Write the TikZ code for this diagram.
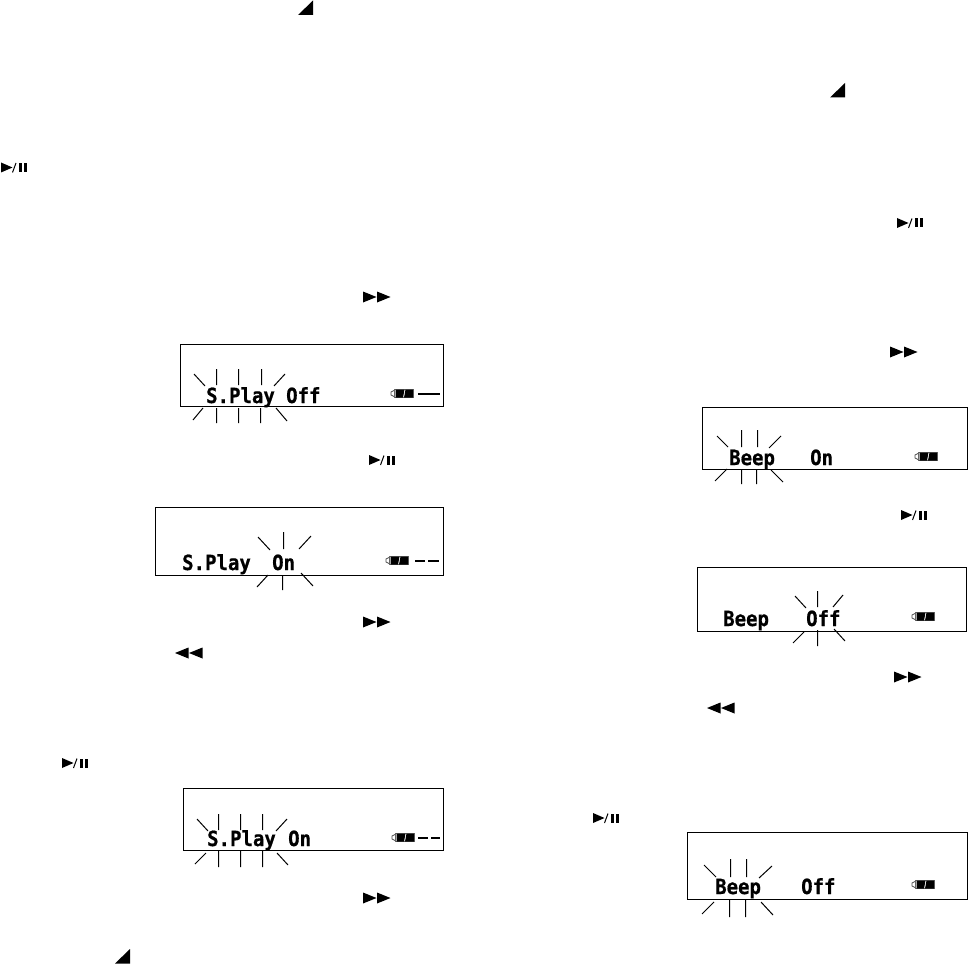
\documentclass[tikz,border=0pt]{standalone}
\usepackage{fontspec}
\newfontfamily\lcdfont[FakeBold=0.7]{DejaVu Sans Mono Bold}
\tikzset{
  x=1pt,y=-1pt,
  lcdbox/.style={draw=black,line width=1pt,fill=white},
  ray/.style={draw=black,line width=1pt},
  lcd/.style={anchor=base west,inner sep=0pt,font=\lcdfont\fontsize{19}{19}\selectfont},
  glyph/.style={fill=black,draw=none}
}
\newcommand{\lcdtext}[1]{\scalebox{1}[1.1]{#1}}
% icons: #1 = left x, #2 = centre y (or top for the corner triangle)
\newcommand{\iconplay}[2]{%
  \fill[glyph] (#1,#2-5) -- (#1+11.5,#2) -- (#1,#2+5) -- cycle;
  \draw[line width=1pt] (#1+11.5,#2+5) -- (#1+15,#2-4.5);
  \fill[glyph] (#1+18,#2-4.5) rectangle (#1+21,#2+4.5);
  \fill[glyph] (#1+23,#2-4.5) rectangle (#1+26,#2+4.5);
}
\newcommand{\iconff}[2]{%
  \fill[glyph] (#1,#2-5.5) -- (#1+13.5,#2) -- (#1,#2+5.5) -- cycle;
  \fill[glyph] (#1+14,#2-5.5) -- (#1+27.5,#2) -- (#1+14,#2+5.5) -- cycle;
}
\newcommand{\iconrew}[2]{%
  \fill[glyph] (#1+13.5,#2-5.5) -- (#1,#2) -- (#1+13.5,#2+5.5) -- cycle;
  \fill[glyph] (#1+27.5,#2-5.5) -- (#1+14,#2) -- (#1+27.5,#2+5.5) -- cycle;
}
\newcommand{\icontri}[2]{%
  \fill[glyph] (#1,#2+14.5) -- (#1+15,#2) -- (#1+15,#2+14.5) -- cycle;
}
\newcommand{\battery}[2]{%
  \draw[line width=0.8pt,draw=black!70] (#1+4,#2+1.5) -- (#1+1,#2+3) -- (#1+1,#2+6) -- (#1+4,#2+7.5);
  \draw[line width=1pt,draw=black!60] (#1+4,#2+0.5) rectangle (#1+23,#2+8.7);
  \fill[black] (#1+5.5,#2+0.5) -- (#1+14.5,#2+0.5) -- (#1+13,#2+8.7) -- (#1+5.5,#2+8.7) -- cycle;
  \fill[black] (#1+15.5,#2+0.5) -- (#1+23,#2+0.5) -- (#1+23,#2+8.7) -- (#1+14,#2+8.7) -- cycle;
}
\begin{document}
\begin{tikzpicture}
\useasboundingbox[fill=white] (0,0) rectangle (968,968);

% corner triangles
\icontri{298}{0.5}
\icontri{830}{83}
\icontri{115}{949}
% play/pause
\iconplay{1}{167.5}
\iconplay{897}{223}
\iconplay{369}{460}
\iconplay{901}{515}
\iconplay{62}{763}
\iconplay{593}{818}
% fast forward
\iconff{363}{297}
\iconff{890}{352}
\iconff{363}{622}
\iconff{894}{677}
\iconff{363}{898}
% rewind
\iconrew{175}{653}
\iconrew{707}{708}

% --- Display 1
\draw[lcdbox] (180.5,344.5) rectangle (443.5,406.5);
\node[lcd] (a1) at (206,403) {\lcdtext{S.Play}};
\node[lcd] (a2) at (286,403) {\lcdtext{Off}};
\battery{390}{389}
\draw[line width=2pt] (418,394) -- (440,394);
\draw[ray] (194,374)--(205,386) (216.5,369)--(216.5,385) (238.5,369)--(238.5,385) (261.5,369)--(261.5,385) (285,374)--(274,386);
\draw[ray] (203,408)--(193,420) (216.5,408)--(216.5,423) (238.5,408)--(238.5,423) (260.5,408)--(260.5,423) (276,408)--(287,421);

% --- Display 2
\draw[lcdbox] (155.5,507.5) rectangle (443.5,575.5);
\node[lcd] (b1) at (182,570) {\lcdtext{S.Play}};
\node[lcd] (b2) at (272,570) {\lcdtext{On}};
\battery{385}{556}
\draw[line width=2pt] (415,561) -- (425,561) (428,561) -- (439,561);
\draw[ray] (258,537)--(270,550) (283.5,532)--(283.5,549) (311,536)--(299,549);
\draw[ray] (268,575)--(257,587) (282.5,575)--(282.5,590) (301,573)--(313,586);

% --- Display 3
\draw[lcdbox] (183.5,788.5) rectangle (443.5,850.5);
\node[lcd] (c1) at (207,846) {\lcdtext{S.Play}};
\node[lcd] (c2) at (288,846) {\lcdtext{On}};
\battery{391}{833}
\draw[line width=2pt] (418,838) -- (428,838) (431,838) -- (440,838);
\draw[ray] (197,819)--(208,831) (218.5,814)--(218.5,830) (240.5,814)--(240.5,830) (262.5,814)--(262.5,830) (287,819)--(276,831);
\draw[ray] (206,853)--(195,864) (218.5,851)--(218.5,867) (240.5,851)--(240.5,867) (262.5,851)--(262.5,867) (277,853)--(288,865);

% --- Display R1
\draw[lcdbox] (702.5,407.5) rectangle (967.5,469.5);
\node[lcd] (d1) at (729,465) {\lcdtext{Beep}};
\node[lcd] (d2) at (810,465) {\lcdtext{On}};
\battery{914}{452}
\draw[ray] (717,436)--(728,447) (741.5,430)--(741.5,447) (757.5,430)--(757.5,447) (781,436)--(769,448);
\draw[ray] (727,469)--(715,481) (741.5,469)--(741.5,484) (756.5,469)--(756.5,484) (771,470)--(783,482);

% --- Display R2
\draw[lcdbox] (697.5,567.5) rectangle (966.5,631.5);
\node[lcd] (e1) at (723,626) {\lcdtext{Beep}};
\node[lcd] (e2) at (806,626) {\lcdtext{Off}};
\battery{911}{612}
\draw[ray] (795,596)--(806,608) (817.5,591)--(817.5,607) (843,595)--(833,607);
\draw[ray] (804,632)--(793,643) (817.5,630)--(817.5,646) (834,629)--(845,641);

% --- Display R3
\draw[lcdbox] (687.5,832.5) rectangle (967.5,899.5);
\node[lcd] (f1) at (715,894) {\lcdtext{Beep}};
\node[lcd] (f2) at (801,894) {\lcdtext{Off}};
\battery{911}{880}
\draw[ray] (704,865)--(716,877) (730.5,859)--(730.5,877) (746.5,859)--(746.5,877) (772,866)--(759,878);
\draw[ray] (714,902)--(702,914) (729.5,900)--(729.5,917) (745.5,900)--(745.5,917) (761,902)--(773,915);
\end{tikzpicture}
\end{document}
